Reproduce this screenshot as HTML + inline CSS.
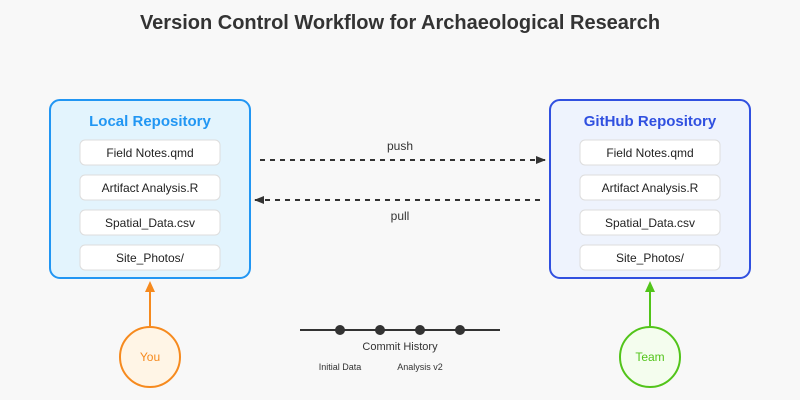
<!DOCTYPE html>
<html><head><meta charset="utf-8"><style>body{margin:0;background:#f8f8f8}svg{display:block}text{font-family:"Liberation Sans",Arial,sans-serif}</style></head>
<body>
<svg width="800" height="400" viewBox="0 0 800 400" xmlns="http://www.w3.org/2000/svg">
<defs>
<marker id="a" markerWidth="10" markerHeight="8" refX="9" refY="4" orient="auto" markerUnits="userSpaceOnUse"><path d="M0,0L10,4L0,8z" fill="#333"/></marker>
</defs>
<rect width="800" height="400" fill="#f8f8f8"/>
<text x="400" y="29" text-anchor="middle" font-size="20" font-weight="bold" fill="#333">Version Control Workflow for Archaeological Research</text>

<rect x="50" y="100" width="200" height="178" rx="10" fill="#e3f4fd" stroke="#2196f3" stroke-width="2"/>
<text x="150" y="126" text-anchor="middle" font-size="15" font-weight="bold" fill="#2196f3">Local Repository</text>
<g font-size="12" fill="#222" text-anchor="middle">
<rect x="80" y="140" width="140" height="25" rx="5" fill="#fff" stroke="#ddd"/><text x="150" y="157">Field Notes.qmd</text>
<rect x="80" y="175" width="140" height="25" rx="5" fill="#fff" stroke="#ddd"/><text x="150" y="192">Artifact Analysis.R</text>
<rect x="80" y="210" width="140" height="25" rx="5" fill="#fff" stroke="#ddd"/><text x="150" y="227">Spatial_Data.csv</text>
<rect x="80" y="245" width="140" height="25" rx="5" fill="#fff" stroke="#ddd"/><text x="150" y="262">Site_Photos/</text>
</g>

<rect x="550" y="100" width="200" height="178" rx="10" fill="#eef3fd" stroke="#3050e0" stroke-width="2"/>
<text x="650" y="126" text-anchor="middle" font-size="15" font-weight="bold" fill="#3050e0">GitHub Repository</text>
<g font-size="12" fill="#222" text-anchor="middle">
<rect x="580" y="140" width="140" height="25" rx="5" fill="#fff" stroke="#ddd"/><text x="650" y="157">Field Notes.qmd</text>
<rect x="580" y="175" width="140" height="25" rx="5" fill="#fff" stroke="#ddd"/><text x="650" y="192">Artifact Analysis.R</text>
<rect x="580" y="210" width="140" height="25" rx="5" fill="#fff" stroke="#ddd"/><text x="650" y="227">Spatial_Data.csv</text>
<rect x="580" y="245" width="140" height="25" rx="5" fill="#fff" stroke="#ddd"/><text x="650" y="262">Site_Photos/</text>
</g>

<line x1="260" y1="160" x2="545" y2="160" stroke="#333" stroke-width="2" stroke-dasharray="5,5" marker-end="url(#a)"/>
<text x="400" y="150" text-anchor="middle" font-size="12" fill="#333">push</text>
<line x1="540" y1="200" x2="255" y2="200" stroke="#333" stroke-width="2" stroke-dasharray="5,5" marker-end="url(#a)"/>
<text x="400" y="220" text-anchor="middle" font-size="12" fill="#333">pull</text>

<line x1="150" y1="327" x2="150" y2="290" stroke="#f68a1e" stroke-width="2"/>
<path d="M150,281L155,292L145,292z" fill="#f68a1e"/>
<circle cx="150" cy="357" r="30" fill="#fff5e6" stroke="#f68a1e" stroke-width="2"/>
<text x="150" y="361" text-anchor="middle" font-size="12" fill="#f68a1e">You</text>

<line x1="650" y1="327" x2="650" y2="290" stroke="#52c41a" stroke-width="2"/>
<path d="M650,281L655,292L645,292z" fill="#52c41a"/>
<circle cx="650" cy="357" r="30" fill="#f4fdee" stroke="#52c41a" stroke-width="2"/>
<text x="650" y="361" text-anchor="middle" font-size="12" fill="#52c41a">Team</text>

<line x1="300" y1="330" x2="500" y2="330" stroke="#333" stroke-width="2"/>
<g fill="#333"><circle cx="340" cy="330" r="5"/><circle cx="380" cy="330" r="5"/><circle cx="420" cy="330" r="5"/><circle cx="460" cy="330" r="5"/></g>
<text x="400" y="350" text-anchor="middle" font-size="11" fill="#333">Commit History</text>
<text x="340" y="370" text-anchor="middle" font-size="9" fill="#333">Initial Data</text>
<text x="420" y="370" text-anchor="middle" font-size="9" fill="#333">Analysis v2</text>
</svg>
</body></html>
